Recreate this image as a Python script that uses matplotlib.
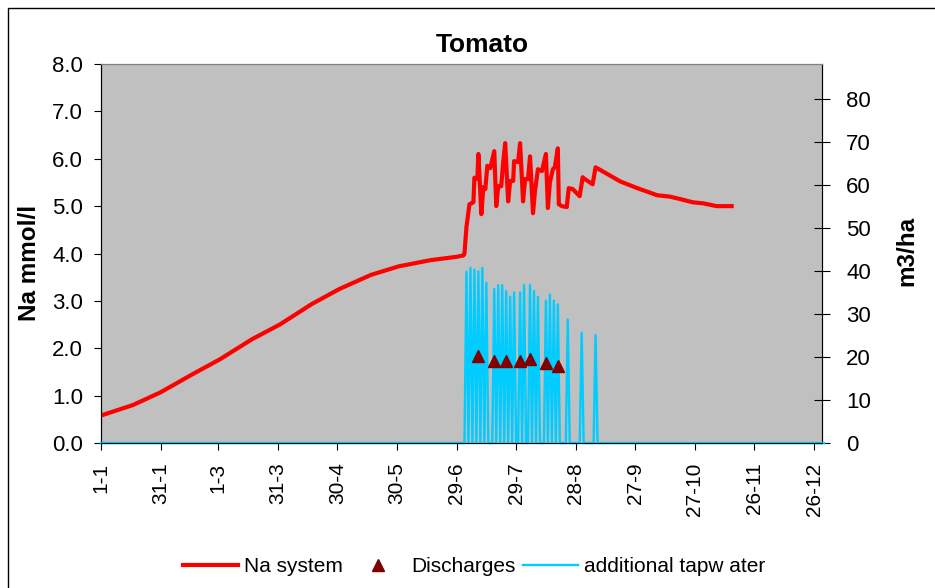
import numpy as np
import matplotlib.pyplot as plt
from matplotlib.lines import Line2D
from matplotlib.patches import Rectangle

plt.rcParams['font.family'] = ['Liberation Sans', 'DejaVu Sans']

# --- Na in the system (mmol/l), by day of year ---
na_days = [1, 17, 31, 47, 61, 77, 91, 107, 121, 137, 151, 167, 180, 183.5,
           184, 185, 186.5, 188.5, 189, 190.5, 191, 192.5, 193.5, 194.5, 195.5,
           197, 199, 200, 201, 202.5, 203.5, 204.5, 206, 207, 208.5, 209, 211,
           212, 213.5, 214.5, 216, 217, 218.5, 219.5, 221, 223, 225, 226, 227,
           228.5, 229.5, 231, 231.5, 233, 235.5, 236.5, 238.5, 242, 243.5, 244,
           248.5, 250, 262.5, 271, 281, 287.5, 292.5, 299, 304, 311, 318.5]
na_vals = [0.58, 0.8, 1.07, 1.45, 1.77, 2.19, 2.5, 2.93, 3.25, 3.55, 3.73, 3.86, 3.93, 3.96,
           4.0, 4.56, 5.04, 5.08, 5.6, 5.58, 6.1, 4.83, 5.4, 5.36, 5.85,
           5.8, 6.16, 5.0, 5.42, 5.42, 5.93, 6.33, 5.1, 5.53, 5.53, 5.95, 5.93,
           6.33, 5.1, 5.57, 5.57, 6.05, 4.85, 5.32, 5.78, 5.74, 6.1, 4.96, 5.5,
           5.78, 5.82, 6.22, 5.04, 5.0, 4.98, 5.38, 5.36, 5.21, 5.61, 5.59,
           5.46, 5.82, 5.52, 5.38, 5.23, 5.2, 5.15, 5.08, 5.06, 5.0, 5.0]

# --- additional tap water (m3/ha) ---
tap_days = [185, 187, 189, 191, 193, 195, 199, 201, 203, 205, 207, 209,
            212, 214, 217, 219, 221, 225, 227, 229, 231, 236, 243, 250]
tap_vals = [39.8, 40.7, 40.3, 39.9, 40.7, 37.2, 35.8, 36.7, 36.7, 35.3, 34.0, 35.0,
            35.0, 36.7, 36.7, 35.3, 34.0, 33.1, 34.5, 33.1, 32.2, 28.7, 25.6, 25.1]

# --- discharges (m3/ha) ---
dis_days = [191, 199, 205, 212, 217, 225, 231]
dis_vals = [20.2, 19.0, 19.0, 19.0, 19.5, 18.5, 18.0]

tick_days = [1, 31, 60, 90, 120, 150, 180, 210, 240, 270, 300, 330, 360]
tick_labels = ['1-1', '31-1', '1-3', '31-3', '30-4', '30-5', '29-6', '29-7',
               '28-8', '27-9', '27-10', '26-11', '26-12']

# daily tap water series, zero on days without irrigation
days = np.arange(1, 366)
tap = np.zeros(len(days))
for d, v in zip(tap_days, tap_vals):
    tap[d - 1] = v

W, H = 935, 588
fig = plt.figure(figsize=(W / 100, H / 100), dpi=100)
L, R, T, B = 101, 822, 64, 443
ax = fig.add_axes([L / W, 1 - B / H, (R - L) / W, (B - T) / H])
ax.set_facecolor('#C0C0C0')
ax2 = ax.twinx()

ax.plot(na_days, na_vals, color='#FF0000', lw=3, zorder=3)
ax2.plot(days, tap, color='#00CCFF', lw=1.7, zorder=5, clip_on=False)
ax2.plot(dis_days, dis_vals, linestyle='none', marker='^', ms=9,
         color='#800000', zorder=6)

ax.set_xlim(1, 364)
ax.set_ylim(0, 8)
ax2.set_ylim(0, 88.1)
ax.set_yticks(np.arange(0, 8.1, 1.0))
ax.set_yticklabels([f'{v:.1f}' for v in np.arange(0, 8.1, 1.0)])
ax2.set_yticks(range(0, 81, 10))
ax.set_xticks(tick_days)
ax.set_xticklabels(tick_labels, rotation=90)

for a in (ax, ax2):
    a.spines['top'].set_color('#808080')
    for s in ('left', 'right', 'bottom'):
        a.spines[s].set_color('black')
# keep the x axis line visible over the zero line of the tap water
ax2.spines['bottom'].set_zorder(10)
ax.tick_params(axis='x', direction='out', length=5, labelsize=15, pad=9)
ax.tick_params(axis='y', direction='out', length=5, labelsize=16, pad=8)
ax2.tick_params(axis='y', direction='inout', length=11, labelsize=16, pad=12)

fig.text(30 / W, 1 - 263 / H, 'Na mmol/l', rotation=90, ha='center', va='center',
         fontsize=17.5, fontweight='bold')
fig.text(907 / W, 1 - 251 / H, 'm3/ha', rotation=90, ha='center', va='center',
         fontsize=17.5, fontweight='bold')
fig.text(482 / W, 1 - 45 / H, 'Tomato', ha='center', va='center',
         fontsize=19, fontweight='bold')

handles = [Line2D([], [], color='#FF0000', lw=3),
           Line2D([], [], linestyle='none', marker='^', ms=9, color='#800000'),
           Line2D([], [], color='#00CCFF', lw=1.7)]
fig.legend(handles, ['Na system', 'Discharges', 'additional tapw ater'],
           loc='center', bbox_to_anchor=(474 / W, 1 - 567 / H), ncol=3,
           frameon=False, fontsize=15, handlelength=2.64, columnspacing=0.35,
           handletextpad=0.28, borderaxespad=0, borderpad=0)

# chart area border
fig.patches.append(Rectangle((8 / W, -0.05), 1.0, 1 - 8 / H + 0.05,
                             transform=fig.transFigure, fill=False,
                             edgecolor='black', lw=1))

fig.savefig('out.png', dpi=100)
